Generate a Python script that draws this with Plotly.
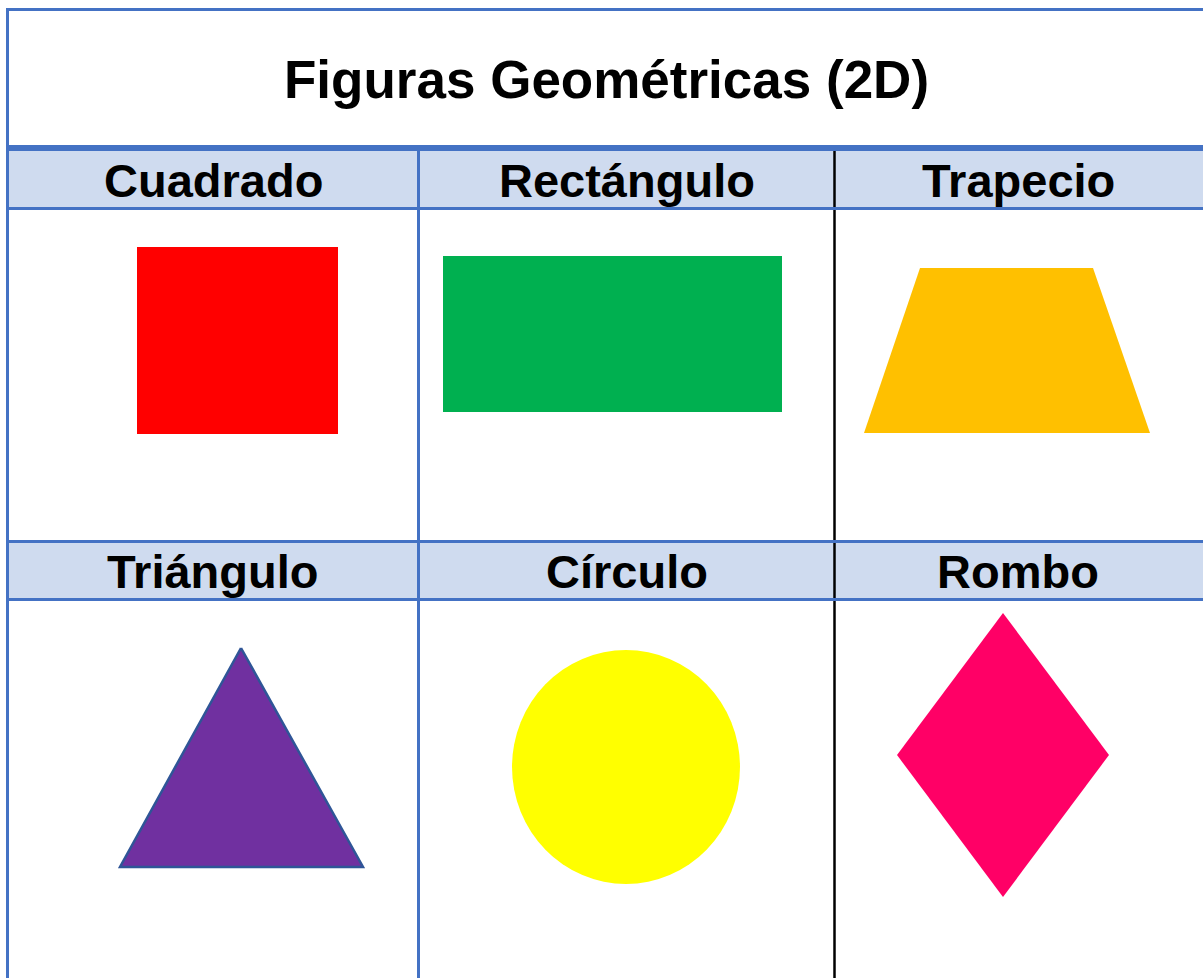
import plotly.graph_objects as go

# titulo y encabezados
titulo = "Figuras Geométricas (2D)"
nombres = ["Cuadrado", "Rectángulo", "Trapecio", "Triángulo", "Círculo", "Rombo"]

# vertices de cada figura (pixeles de la lamina)
cuadrado_x = [137, 338, 338, 137]
cuadrado_y = [247, 247, 434, 434]
rectangulo_x = [443, 782, 782, 443]
rectangulo_y = [256, 256, 412, 412]
trapecio_x = [920, 1093, 1150, 864]
trapecio_y = [268, 268, 433, 433]
triangulo_x = [241, 363, 120]
triangulo_y = [648, 867, 867]
circulo_x = [512, 740]
circulo_y = [650, 884]
rombo_x = [1003, 1109, 1003, 897]
rombo_y = [613, 755, 897, 755]

colores = ["#FF0000", "#00B050", "#FFC000", "#7030A0", "#FFFF00", "#FF0066"]

W, H = 1203, 978
azul = "#4472C4"
relleno = "#CFDBEF"
fuente = "Liberation Sans, Arial, sans-serif"

fig = go.Figure()

poligonos = [(cuadrado_x, cuadrado_y), (rectangulo_x, rectangulo_y), (trapecio_x, trapecio_y),
             (triangulo_x, triangulo_y), (None, None), (rombo_x, rombo_y)]
for i, (px_, py_) in enumerate(poligonos):
    if px_ is None:
        continue
    borde = dict(color="#2F5597", width=2.5) if i == 3 else dict(width=0)
    fig.add_trace(go.Scatter(x=px_ + [px_[0]], y=py_ + [py_[0]], mode="lines", fill="toself",
                             fillcolor=colores[i], line=borde, hoverinfo="skip", showlegend=False))

shapes = []
# bandas de encabezado
for y0, y1 in [(151, 207), (543, 598)]:
    shapes.append(dict(type="rect", x0=9, x1=W, y0=y0, y1=y1, fillcolor=relleno, line_width=0, layer="below"))
# circulo
shapes.append(dict(type="circle", x0=circulo_x[0], x1=circulo_x[1], y0=circulo_y[0], y1=circulo_y[1],
                   fillcolor=colores[4], line_width=0, layer="below"))
# divisor negro
shapes.append(dict(type="line", x0=834.5, x1=834.5, y0=151, y1=H, line=dict(color="black", width=2.5)))
# lineas azules
for y, w in [(9.5, 3), (148, 6), (208.5, 3), (541.5, 3), (599.5, 3)]:
    shapes.append(dict(type="line", x0=6, x1=W, y0=y, y1=y, line=dict(color=azul, width=w)))
shapes.append(dict(type="line", x0=7.5, x1=7.5, y0=8, y1=H, line=dict(color=azul, width=3)))
shapes.append(dict(type="line", x0=418.5, x1=418.5, y0=148, y1=H, line=dict(color=azul, width=3)))

annotations = [dict(x=606, y=79, text=titulo, showarrow=False, xanchor="center", yanchor="middle",
                    font=dict(family=fuente, size=53, color="black", weight="bold"))]
centros_x = [213, 627, 1018]
centros_y = [180, 571]
for i, n in enumerate(nombres):
    annotations.append(dict(x=centros_x[i % 3], y=centros_y[i // 3], text=n, showarrow=False,
                            xanchor="center", yanchor="middle",
                            font=dict(family=fuente, size=47, color="black", weight="bold")))

fig.update_layout(
    width=W, height=H, margin=dict(l=0, r=0, t=0, b=0),
    paper_bgcolor="white", plot_bgcolor="white",
    xaxis=dict(range=[0, W], visible=False, fixedrange=True),
    yaxis=dict(range=[H, 0], visible=False, fixedrange=True),
    shapes=shapes, annotations=annotations,
)

# sin margen del body para que la lamina quede en 0,0
fig.write_html("out.html", config={"displayModeBar": False},
               post_script="document.body.style.margin='0';document.body.style.overflow='hidden';")
